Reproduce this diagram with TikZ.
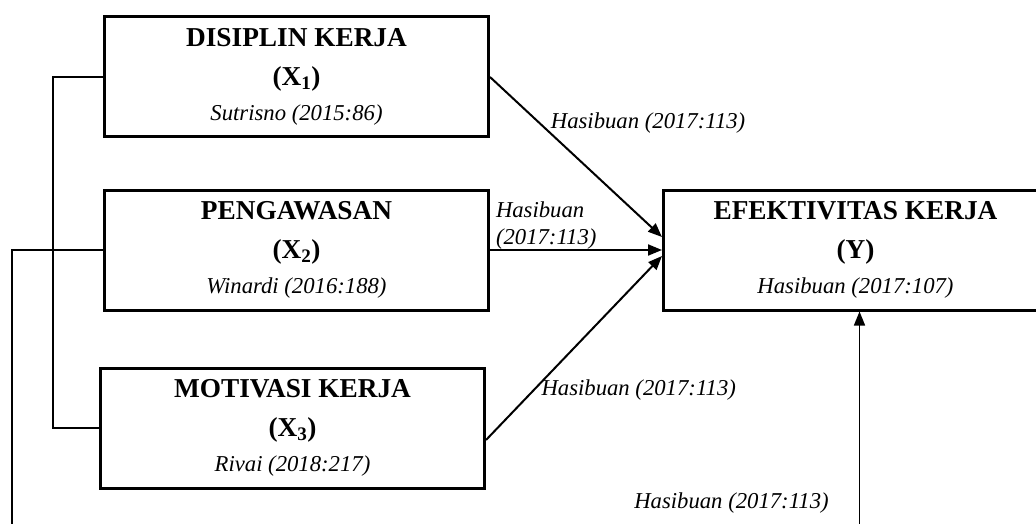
\documentclass[tikz,border=0pt]{standalone}
\usepackage{fontspec}
\setmainfont{Liberation Serif}
\usetikzlibrary{arrows.meta,positioning}

\newcommand{\srcline}[1]{{\mdseries\itshape\fontsize{22.7}{27}\selectfont #1}}

\begin{document}
\begin{tikzpicture}[
    x=1pt, y=-1pt,
    node distance=50pt and 172pt,
    varbox/.style={rectangle, draw, line width=3pt, minimum width=384pt, minimum height=120pt, align=center, inner sep=0pt, font=\bfseries\fontsize{27.3}{39}\selectfont},
    arrow/.style={-{Triangle[length=14pt,width=11pt]}, line width=2pt},
    link/.style={line width=1.4pt},
    cite/.style={font=\itshape\fontsize{22.7}{27}\selectfont, inner sep=0pt}
]
    \useasboundingbox (0,0) rectangle (1036,524);
    \clip (0,0) rectangle (1036,524);

    % Variabel bebas
    \node[varbox] (x2) at (296.5,250) {PENGAWASAN\\(X\textsubscript{2})\\[-4pt]\srcline{Winardi (2016:188)}};
    \node[varbox, above=of x2] (x1) {DISIPLIN KERJA\\(X\textsubscript{1})\\[-4pt]\srcline{Sutrisno (2015:86)}};
    \node[varbox, below=55pt of x2, xshift=-4pt] (x3) {MOTIVASI KERJA\\(X\textsubscript{3})\\[-4pt]\srcline{Rivai (2018:217)}};

    % Variabel terikat
    \node[varbox, right=of x2] (y) {EFEKTIVITAS KERJA\\(Y)\\[-4pt]\srcline{Hasibuan (2017:107)}};

    % Pengaruh parsial
    \draw[arrow] (x1.east) -- node[cite, pos=0.29, anchor=west, xshift=10pt] {Hasibuan (2017:113)} ([yshift=13pt]y.west);
    \draw[arrow] (x2.east) -- node[cite, pos=0, anchor=south west, align=left, xshift=5pt] {Hasibuan\\(2017:113)} (y.west);
    \draw[arrow] ([yshift=-12pt]x3.east) -- node[cite, pos=0.27, anchor=west, xshift=7pt] {Hasibuan (2017:113)} ([yshift=-6pt]y.west);

    % Pengaruh simultan
    \draw[link] (x1.west) -- ++(-50,0) |- (x3.west);
    \draw[arrow, line width=1.6pt] (x2.west) -- ++(-91,0) -- ++(0,320) -| node[cite, pos=0.63, anchor=east, xshift=-30pt] {Hasibuan (2017:113)} ([xshift=4pt]y.south);

\end{tikzpicture}
\end{document}
